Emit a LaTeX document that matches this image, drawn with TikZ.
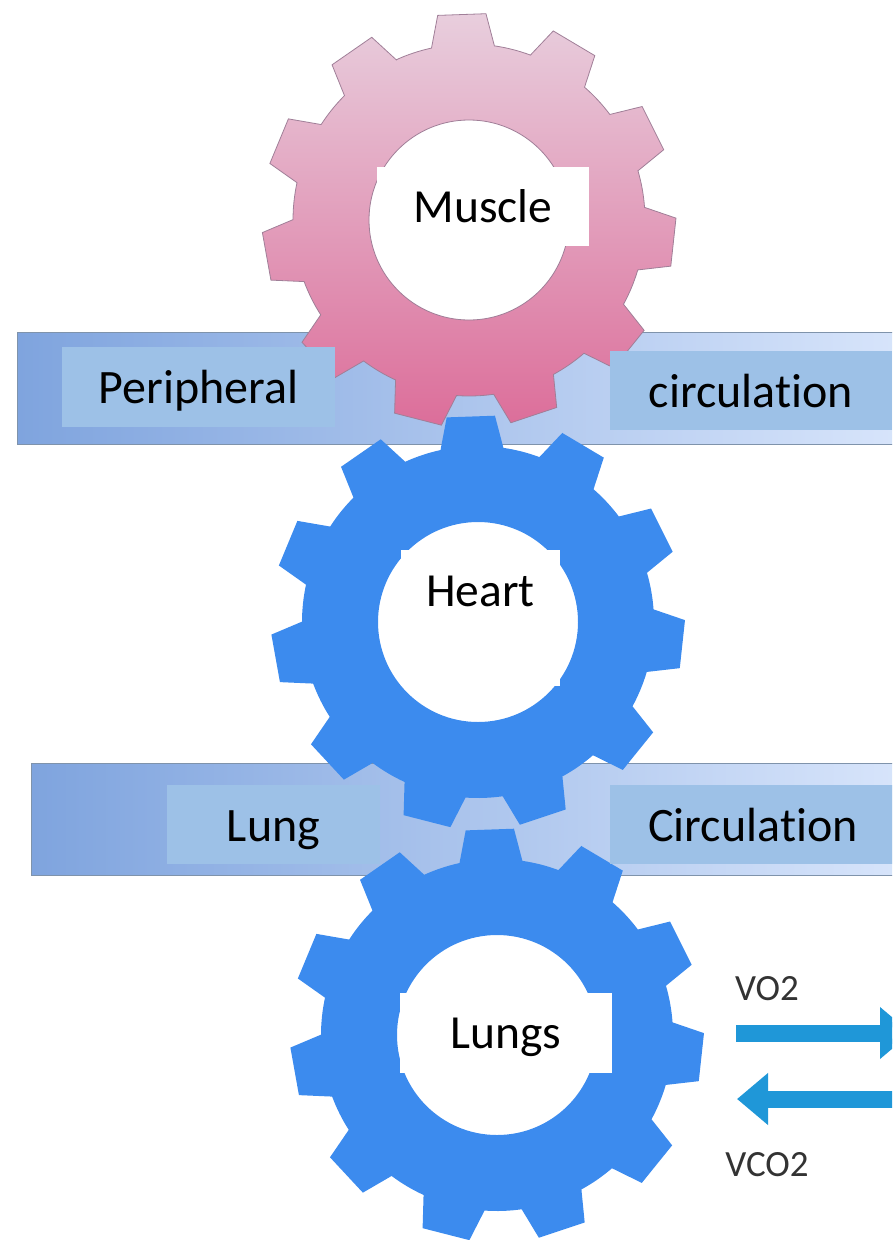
\documentclass[tikz,border=0pt]{standalone}
\usepackage{fontspec}
\setmainfont{Carlito}[Ligatures=NoCommon]
\usetikzlibrary{arrows.meta, positioning}

\definecolor{gearblue}{HTML}{3C8BEE}
\definecolor{arrowblue}{HTML}{1F97D8}
\definecolor{labelblue}{HTML}{9DC1E7}
\definecolor{barleft}{HTML}{7FA4DE}
\definecolor{barright}{HTML}{D8E5FB}
\definecolor{barline}{HTML}{7F93AB}
\definecolor{geartop}{HTML}{E8CEDD}
\definecolor{gearbottom}{HTML}{DC6E9A}
\definecolor{gearline}{HTML}{A07F98}

\begin{document}
\begin{tikzpicture}[
    x=1pt, y=-1pt,
    channel/.style={rectangle, draw=barline, line width=1pt, left color=barleft, right color=barright, anchor=north west, inner sep=0pt},
    labelbox/.style={rectangle, fill=labelblue, anchor=base, inner sep=0pt, font=\fontsize{48pt}{52pt}\selectfont},
    organbox/.style={rectangle, fill=white, anchor=base, inner sep=0pt, font=\fontsize{47.5pt}{50pt}\selectfont},
    gaslabel/.style={anchor=base, inner sep=0pt, text=black!80, font=\fontsize{37pt}{40pt}\selectfont},
    flow/.style={-{Triangle[length=31pt, width=50pt]}, line width=17pt, draw=arrowblue},
    pinkgear/.style={top color=geartop, bottom color=gearbottom, draw=gearline, line width=0.8pt},
    bluegear/.style={fill=gearblue},
    gear/.pic={
        \path[pic actions, even odd rule] (81.7:176pt)
            \foreach \i [evaluate=\i as \a using 92+\i*360/11] in {0,...,10} {
                -- (\a-10.3:176pt) -- (\a-6.7:207pt) -- (\a+6.7:207pt)
                -- (\a+10.3:176pt)
                arc[start angle=\a+10.3, delta angle=12.127, radius=176pt]
            } -- cycle
            (0pt,0pt) circle[radius=100pt];
    }
]
\useasboundingbox (0,0) rectangle (892,1240);
\clip (0,0) rectangle (892,1240);

% Bars
\node[channel, minimum width=890pt, minimum height=112pt] (peripheralbar) at (17,332) {};
\node[channel, minimum width=876pt, minimum height=112pt] (lungbar) at (31,763) {};

% Gears
\pic[pinkgear] (musclegear) at (469,220) {gear};
\pic[bluegear] (heartgear) at (478,622) {gear};
\pic[bluegear] (lungsgear) at (497,1035) {gear};

% Bar labels
\node[labelbox, minimum width=273pt, text height=56pt, text depth=24pt] (peripheral) at (198.5,403) {Peripheral};
\node[labelbox, minimum width=282pt, text height=56pt, text depth=23pt] (circulationtop) at (751,407) {circulation};
\node[labelbox, minimum width=213pt, text height=56pt, text depth=23pt] (lung) at (273.5,841) {Lung};
\node[labelbox, minimum width=286pt, text height=56pt, text depth=23pt] (circulationlow) at (753,841) {Circulation};

% Organ labels
\node[organbox, minimum width=212pt, text height=55pt, text depth=24pt] (muscle) at (483,222) {Muscle};
\node[organbox, minimum width=159pt, text height=56pt, text depth=80pt] (heart) at (480.5,606) {Heart};
\node[organbox, minimum width=212pt, text height=55pt, text depth=25pt] (lungs) at (506,1048) {Lungs};

% Gas exchange
\node[gaslabel] (vo2) at (767,1000) {VO2};
\node[gaslabel] (vco2) at (767,1176) {VCO2};
\coordinate (vo2start) at (736,1033);
\coordinate (vo2end) at (911,1033);
\coordinate (vco2start) at (900,1099);
\coordinate (vco2end) at (737,1099);
\draw[flow] (vo2start) -- (vo2end);
\draw[flow] (vco2start) -- (vco2end);

\end{tikzpicture}
\end{document}
